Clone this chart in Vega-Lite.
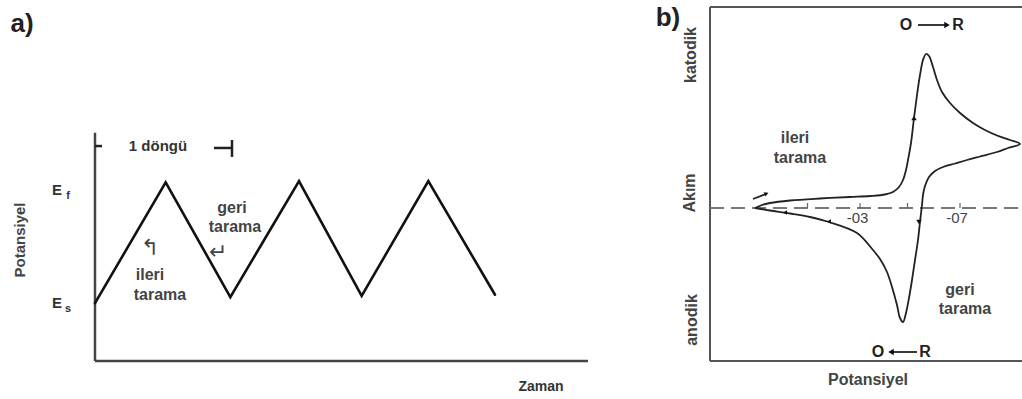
{
  "$schema": "https://vega.github.io/schema/vega-lite/v6.json",
  "padding": {"left": 10, "top": 5, "right": 0, "bottom": 0},
  "background": "white",
  "spacing": 122,
  "bounds": "flush",
  "config": {"view": {"stroke": null}, "font": "Liberation Sans"},
  "datasets": {
    "wave": [
      {"t": 0, "v": -0.01}, {"t": 1.06, "v": 0.99}, {"t": 2.03, "v": 0.04},
      {"t": 3.06, "v": 1.0}, {"t": 4.0, "v": 0.05}, {"t": 5.0, "v": 1.0}, {"t": 6.0, "v": 0.06}
    ],
    "aAxes": [
      {"t": 0, "t2": 0, "v": -0.488, "v2": 1.4},
      {"t": 0, "t2": 7.395, "v": -0.488, "v2": -0.488}
    ],
    "bracket": [
      {"t": 0, "t2": 0.105, "v": 1.29, "v2": 1.29},
      {"t": 1.785, "t2": 2.055, "v": 1.274, "v2": 1.274},
      {"t": 2.055, "t2": 2.055, "v": 1.2, "v2": 1.34}
    ],
    "aScanText": [
      {"t": 2.055, "v": 0.778, "label": "geri"},
      {"t": 2.1, "v": 0.62, "label": "tarama"},
      {"t": 0.825, "v": 0.223, "label": "ileri"},
      {"t": 0.975, "v": 0.058, "label": "tarama"}
    ],
    "aArrows": [
      {"t": 0.825, "v": 0.447, "label": "↰"},
      {"t": 1.845, "v": 0.41, "label": "↵"}
    ],
    "eMain": [
      {"t": -0.57, "v": 0.926, "label": "E"},
      {"t": -0.57, "v": -0.008, "label": "E"}
    ],
    "eSub": [
      {"t": -0.405, "v": 0.877, "label": "f"},
      {"t": -0.405, "v": -0.058, "label": "s"}
    ],
    "cv": [
      {"k": 1, "E": 0.12, "i": 0}, {"k": 2, "E": 0.092, "i": 0.3}, {"k": 3, "E": 0.06, "i": 0.5},
      {"k": 4, "E": -0.02, "i": 0.75}, {"k": 5, "E": -0.14, "i": 0.95}, {"k": 6, "E": -0.26, "i": 1.1},
      {"k": 7, "E": -0.34, "i": 1.2}, {"k": 8, "E": -0.4, "i": 1.35}, {"k": 9, "E": -0.432, "i": 1.6},
      {"k": 10, "E": -0.456, "i": 2.1}, {"k": 11, "E": -0.472, "i": 2.8}, {"k": 12, "E": -0.484, "i": 3.8},
      {"k": 13, "E": -0.492, "i": 4.8}, {"k": 14, "E": -0.504, "i": 6.5}, {"k": 15, "E": -0.516, "i": 9.0},
      {"k": 16, "E": -0.528, "i": 11.3}, {"k": 17, "E": -0.54, "i": 13.3}, {"k": 18, "E": -0.552, "i": 14.8},
      {"k": 19, "E": -0.564, "i": 15.4}, {"k": 20, "E": -0.576, "i": 15.2}, {"k": 21, "E": -0.592, "i": 14.1},
      {"k": 22, "E": -0.608, "i": 12.8}, {"k": 23, "E": -0.628, "i": 11.6}, {"k": 24, "E": -0.66, "i": 10.5},
      {"k": 25, "E": -0.7, "i": 9.5}, {"k": 26, "E": -0.752, "i": 8.5}, {"k": 27, "E": -0.8, "i": 7.8},
      {"k": 28, "E": -0.848, "i": 7.25}, {"k": 29, "E": -0.9, "i": 6.8}, {"k": 30, "E": -0.94, "i": 6.4},
      {"k": 31, "E": -0.892, "i": 6.0}, {"k": 32, "E": -0.848, "i": 5.6}, {"k": 33, "E": -0.78, "i": 5.15},
      {"k": 34, "E": -0.728, "i": 4.8}, {"k": 35, "E": -0.68, "i": 4.45}, {"k": 36, "E": -0.632, "i": 4.1},
      {"k": 37, "E": -0.6, "i": 3.7}, {"k": 38, "E": -0.576, "i": 3.1}, {"k": 39, "E": -0.56, "i": 2.2},
      {"k": 40, "E": -0.552, "i": 1.3}, {"k": 41, "E": -0.548, "i": 0.3}, {"k": 42, "E": -0.54, "i": -1.4},
      {"k": 43, "E": -0.532, "i": -3.2}, {"k": 44, "E": -0.52, "i": -5.2}, {"k": 45, "E": -0.508, "i": -7.2},
      {"k": 46, "E": -0.496, "i": -9.0}, {"k": 47, "E": -0.484, "i": -10.5}, {"k": 48, "E": -0.472, "i": -11.4},
      {"k": 49, "E": -0.46, "i": -11.0}, {"k": 50, "E": -0.448, "i": -9.7}, {"k": 51, "E": -0.428, "i": -7.9},
      {"k": 52, "E": -0.408, "i": -6.4}, {"k": 53, "E": -0.38, "i": -5.1}, {"k": 54, "E": -0.352, "i": -4.2},
      {"k": 55, "E": -0.288, "i": -2.5}, {"k": 56, "E": -0.176, "i": -1.4}, {"k": 57, "E": -0.1, "i": -0.9},
      {"k": 58, "E": -0.02, "i": -0.55}, {"k": 59, "E": 0.06, "i": -0.25}, {"k": 60, "E": 0.12, "i": 0}
    ],
    "bBox": [
      {"E": 0.3, "E2": -0.948, "i": 20.1, "i2": 20.1},
      {"E": 0.3, "E2": 0.3, "i": -15.3, "i2": 20.1},
      {"E": 0.3, "E2": -0.948, "i": -15.3, "i2": -15.3}
    ],
    "bZero": [{"E": 0.3, "E2": -0.948, "i": 0}],
    "bTicks": [
      {"E": -0.09, "i": 0, "i2": 0.5}, {"E": -0.3, "i": 0, "i2": 0.5},
      {"E": -0.49, "i": 0, "i2": 0.5}, {"E": -0.7, "i": 0, "i2": 0.5}
    ],
    "bTickLabels": [
      {"E": -0.29, "i": -1.0, "label": "-03"},
      {"E": -0.688, "i": -0.95, "label": "-07"}
    ],
    "bArrowUp": [{"E": -0.516, "i": 9.0}],
    "bArrowDown": [{"E": -0.536, "i": -1.4}],
    "bArrowLeft": [{"E": -0.176, "i": -1.35}, {"E": 0.0, "i": -0.45}],
    "bRedox": [
      {"E": -0.484, "i": 18.3, "label": "O"}, {"E": -0.692, "i": 18.3, "label": "R"},
      {"E": -0.372, "i": -14.4, "label": "O"}, {"E": -0.56, "i": -14.4, "label": "R"}
    ],
    "bRedoxLines": [
      {"E": -0.532, "E2": -0.64, "i": 18.3},
      {"E": -0.43, "E2": -0.528, "i": -14.4},
      {"E": 0.128, "E2": 0.076, "i": 0.9, "i2": 1.4}
    ],
    "bHeadRight": [{"E": -0.648, "i": 18.3}],
    "bHeadLeft": [{"E": -0.424, "i": -14.4}],
    "bScanText": [
      {"E": -0.04, "i": 7.0, "label": "ileri"},
      {"E": -0.06, "i": 5.0, "label": "tarama"},
      {"E": -0.7, "i": -8.2, "label": "geri"},
      {"E": -0.72, "i": -10.1, "label": "tarama"}
    ],
    "bSide": [
      {"E": 0.376, "i": 15.3, "label": "katodik"},
      {"E": 0.38, "i": 1.5, "label": "Akım"},
      {"E": 0.372, "i": -11.2, "label": "anodik"}
    ]
  },
  "hconcat": [
    {
      "width": 493,
      "height": 354,
      "encoding": {
        "x": {"field": "t", "type": "quantitative", "scale": {"domain": [0, 7.395], "nice": false, "zero": false}, "axis": null},
        "y": {"field": "v", "type": "quantitative", "scale": {"domain": [-0.488, 2.44], "nice": false, "zero": false}, "axis": null}
      },
      "layer": [
        {
          "data": {"name": "aAxes"},
          "mark": {"type": "rule", "color": "#444", "strokeWidth": 2.5},
          "encoding": {"x2": {"field": "t2"}, "y2": {"field": "v2"}}
        },
        {
          "data": {"name": "wave"},
          "mark": {"type": "line", "color": "#111", "strokeWidth": 2.6, "strokeCap": "round", "strokeJoin": "miter"},
          "encoding": {"order": {"field": "t", "type": "quantitative"}}
        },
        {
          "data": {"name": "bracket"},
          "mark": {"type": "rule", "color": "#222", "strokeWidth": 2.5},
          "encoding": {"x2": {"field": "t2"}, "y2": {"field": "v2"}}
        },
        {
          "data": {"values": [{"t": 0.945, "v": 1.29, "label": "1 döngü"}]},
          "mark": {"type": "text", "fontSize": 15, "fontWeight": "bold", "color": "#333"},
          "encoding": {"text": {"field": "label"}}
        },
        {
          "data": {"values": [{"t": -1.095, "v": 2.3, "label": "a)"}]},
          "mark": {"type": "text", "fontSize": 26, "fontWeight": "bold", "color": "#222"},
          "encoding": {"text": {"field": "label"}}
        },
        {
          "data": {"name": "aScanText"},
          "mark": {"type": "text", "fontSize": 16, "fontWeight": "bold", "color": "#444"},
          "encoding": {"text": {"field": "label"}}
        },
        {
          "data": {"name": "aArrows"},
          "mark": {"type": "text", "fontSize": 22, "font": "DejaVu Sans", "color": "#444"},
          "encoding": {"text": {"field": "label"}}
        },
        {
          "data": {"name": "eMain"},
          "mark": {"type": "text", "fontSize": 15, "fontWeight": "bold", "color": "#333"},
          "encoding": {"text": {"field": "label"}}
        },
        {
          "data": {"name": "eSub"},
          "mark": {"type": "text", "fontSize": 11, "fontWeight": "bold", "color": "#333"},
          "encoding": {"text": {"field": "label"}}
        },
        {
          "data": {"values": [{"t": -1.125, "v": 0.513, "label": "Potansiyel"}]},
          "mark": {"type": "text", "fontSize": 15, "fontWeight": "bold", "angle": 270, "color": "#444"},
          "encoding": {"text": {"field": "label"}}
        },
        {
          "data": {"values": [{"t": 6.69, "v": -0.703, "label": "Zaman"}]},
          "mark": {"type": "text", "fontSize": 14, "fontWeight": "bold", "color": "#333"},
          "encoding": {"text": {"field": "label"}}
        }
      ]
    },
    {
      "width": 312,
      "height": 354,
      "encoding": {
        "x": {"field": "E", "type": "quantitative", "scale": {"domain": [-0.948, 0.3], "reverse": true, "nice": false, "zero": false}, "axis": null},
        "y": {"field": "i", "type": "quantitative", "scale": {"domain": [-15.3, 20.1], "nice": false, "zero": false}, "axis": null}
      },
      "layer": [
        {
          "data": {"name": "bBox"},
          "mark": {"type": "rule", "color": "#555", "strokeWidth": 2},
          "encoding": {"x2": {"field": "E2"}, "y2": {"field": "i2"}}
        },
        {
          "data": {"name": "bZero"},
          "mark": {"type": "rule", "color": "#777", "strokeWidth": 1.8, "strokeDash": [14, 7]},
          "encoding": {"x2": {"field": "E2"}}
        },
        {
          "data": {"name": "bTicks"},
          "mark": {"type": "rule", "color": "#666", "strokeWidth": 1.2},
          "encoding": {"y2": {"field": "i2"}}
        },
        {
          "data": {"name": "bTickLabels"},
          "mark": {"type": "text", "fontSize": 15, "color": "#444"},
          "encoding": {"text": {"field": "label"}}
        },
        {
          "data": {"name": "cv"},
          "mark": {"type": "line", "color": "#222", "strokeWidth": 1.8, "interpolate": "catmull-rom"},
          "encoding": {"order": {"field": "k", "type": "quantitative"}}
        },
        {
          "data": {"name": "bArrowUp"},
          "mark": {"type": "point", "shape": "triangle-up", "filled": true, "size": 30, "color": "#111", "opacity": 1},
          "encoding": {}
        },
        {
          "data": {"name": "bArrowDown"},
          "mark": {"type": "point", "shape": "triangle-down", "filled": true, "size": 30, "color": "#111", "opacity": 1},
          "encoding": {}
        },
        {
          "data": {"name": "bArrowLeft"},
          "mark": {"type": "point", "shape": "triangle-left", "filled": true, "size": 22, "color": "#111", "opacity": 1},
          "encoding": {}
        },
        {
          "data": {"name": "bRedoxLines"},
          "mark": {"type": "rule", "color": "#222", "strokeWidth": 1.8},
          "encoding": {"x2": {"field": "E2"}, "y2": {"field": "i2"}}
        },
        {
          "data": {"name": "bHeadRight"},
          "mark": {"type": "point", "shape": "triangle-right", "filled": true, "size": 40, "color": "#111", "opacity": 1},
          "encoding": {}
        },
        {
          "data": {"name": "bHeadLeft"},
          "mark": {"type": "point", "shape": "triangle-left", "filled": true, "size": 40, "color": "#111", "opacity": 1},
          "encoding": {}
        },
        {
          "data": {"values": [{"E": 0.074, "i": 1.45}]},
          "mark": {"type": "point", "shape": "triangle-right", "filled": true, "size": 22, "color": "#111", "opacity": 1, "angle": -25},
          "encoding": {}
        },
        {
          "data": {"name": "bRedox"},
          "mark": {"type": "text", "fontSize": 16, "fontWeight": "bold", "color": "#222"},
          "encoding": {"text": {"field": "label"}}
        },
        {
          "data": {"name": "bScanText"},
          "mark": {"type": "text", "fontSize": 16, "fontWeight": "bold", "color": "#444"},
          "encoding": {"text": {"field": "label"}}
        },
        {
          "data": {"name": "bSide"},
          "mark": {"type": "text", "fontSize": 16, "fontWeight": "bold", "angle": 270, "color": "#444"},
          "encoding": {"text": {"field": "label"}}
        },
        {
          "data": {"values": [{"E": 0.468, "i": 19.0, "label": "b)"}]},
          "mark": {"type": "text", "fontSize": 26, "fontWeight": "bold", "color": "#222"},
          "encoding": {"text": {"field": "label"}}
        },
        {
          "data": {"values": [{"E": -0.332, "i": -17.2, "label": "Potansiyel"}]},
          "mark": {"type": "text", "fontSize": 16, "fontWeight": "bold", "color": "#444"},
          "encoding": {"text": {"field": "label"}}
        }
      ]
    }
  ]
}
